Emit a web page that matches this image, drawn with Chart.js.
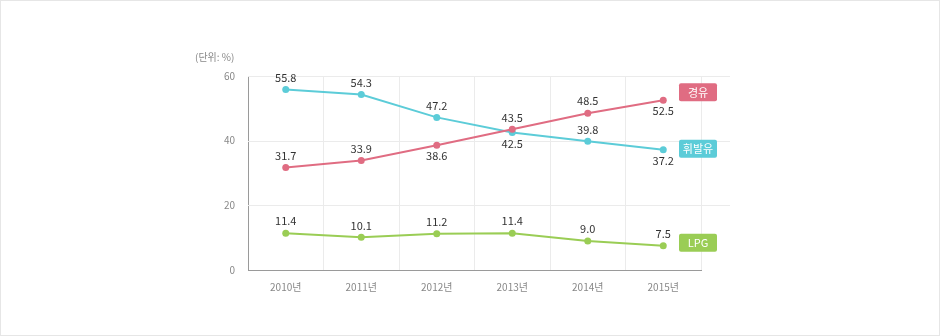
<!DOCTYPE html>
<html>
<head>
<meta charset="utf-8">
<script src="https://cdn.jsdelivr.net/npm/chart.js@4"></script>
<style>
  html, body { margin: 0; padding: 0; background: #fff; }
  .wrap { position: relative; width: 938px; height: 334px; border: 1px solid #e6e6e6; }
  .unit { position: absolute; left: 194px; top: 48px; font: 10px "Noto Sans CJK KR", sans-serif; color: #888; }
</style>
</head>
<body>
<div class="wrap">
  <div class="unit">(단위: %)</div>
  <canvas id="fuelChart" width="938" height="334"></canvas>
</div>
<script>
// 연도
const years = ['2010년', '2011년', '2012년', '2013년', '2014년', '2015년'];
// 연료별 비중 (%)
const diesel = [31.7, 33.9, 38.6, 43.5, 48.5, 52.5];
const gasoline = [55.8, 54.3, 47.2, 42.5, 39.8, 37.2];
const lpg = [11.4, 10.1, 11.2, 11.4, 9.0, 7.5];
const yTicks = [0, 20, 40, 60];

const FONT = '"Noto Sans CJK KR", sans-serif';

// 값 라벨 위/아래 위치
const labelSide = {
  '경유': ['up', 'up', 'down', 'up', 'up', 'down'],
  '휘발유': ['up', 'up', 'up', 'down', 'up', 'down'],
  'LPG': ['up', 'up', 'up', 'up', 'up', 'up']
};
// 오른쪽 범례 박스 세로 보정
const tagShift = { '경유': -8, '휘발유': -1, 'LPG': -3 };

const labelPlugin = {
  id: 'labels',
  beforeDatasetsDraw(chart) {
    // 가로 그리드 (차트 영역 오른쪽으로 조금 더 연장)
    const { ctx, chartArea } = chart;
    const y = chart.scales.y;
    ctx.save();
    ctx.strokeStyle = '#ebebeb';
    ctx.lineWidth = 1;
    yTicks.forEach(v => {
      if (v === 0) return;
      const py = Math.round(y.getPixelForValue(v)) + 0.5;
      ctx.beginPath();
      ctx.moveTo(chartArea.left, py);
      ctx.lineTo(chartArea.right + 29, py);
      ctx.stroke();
    });
    ctx.restore();
  },
  afterDatasetsDraw(chart) {
    const ctx = chart.ctx;
    ctx.save();
    chart.data.datasets.forEach((ds, i) => {
      const meta = chart.getDatasetMeta(i);
      meta.data.forEach((pt, j) => {
        const side = labelSide[ds.label][j];
        ctx.font = '11px ' + FONT;
        ctx.fillStyle = '#333';
        ctx.textAlign = 'center';
        ctx.textBaseline = 'middle';
        ctx.fillText(ds.data[j].toFixed(1), pt.x, side === 'up' ? pt.y - 12 : pt.y + 11);
      });
      // 범례 박스
      const last = meta.data[meta.data.length - 1];
      const bx = chart.chartArea.right - 22;
      const by = last.y + tagShift[ds.label] - 9;
      ctx.fillStyle = ds.borderColor;
      ctx.beginPath();
      ctx.roundRect(bx, by, 38, 18, 2);
      ctx.fill();
      ctx.fillStyle = '#fff';
      ctx.font = '11px ' + FONT;
      ctx.fillText(ds.label, bx + 19, by + 9.5);
    });
    ctx.restore();
  }
};

function series(label, data, color) {
  return {
    label: label,
    data: data,
    borderColor: color,
    backgroundColor: color,
    pointBackgroundColor: color,
    borderWidth: 2,
    pointRadius: 3.5,
    pointBorderWidth: 0,
    tension: 0
  };
}

const fuelChart = new Chart(document.getElementById('fuelChart'), {
  type: 'line',
  data: {
    labels: years,
    datasets: [
      series('경유', diesel, '#e06c82'),
      series('휘발유', gasoline, '#5cccd8'),
      series('LPG', lpg, '#9acd55')
    ]
  },
  options: {
    responsive: false,
    animation: false,
    events: [],
    layout: { padding: { left: 217, top: 75, right: 238, bottom: 35 } },
    plugins: {
      legend: { display: false },
      tooltip: { enabled: false }
    },
    scales: {
      x: {
        offset: true,
        grid: {
          offset: true,
          drawTicks: false,
          color: ctx => (ctx.index === years.length ? 'rgba(0,0,0,0)' : '#ebebeb')
        },
        border: { color: '#9a9a9a', width: 1 },
        ticks: { padding: 11, color: '#888', font: { family: FONT, size: 10 } },
        afterFit: s => { s.height = 30; }
      },
      y: {
        min: 0,
        max: 60,
        afterBuildTicks: s => { s.ticks = yTicks.map(v => ({ value: v })); },
        grid: { display: false, drawTicks: false },
        border: { color: '#9a9a9a', width: 1 },
        ticks: { padding: 13, color: '#888', font: { family: FONT, size: 10 } },
        afterFit: s => { s.width = 30; }
      }
    }
  },
  plugins: [labelPlugin]
});
</script>
</body>
</html>
